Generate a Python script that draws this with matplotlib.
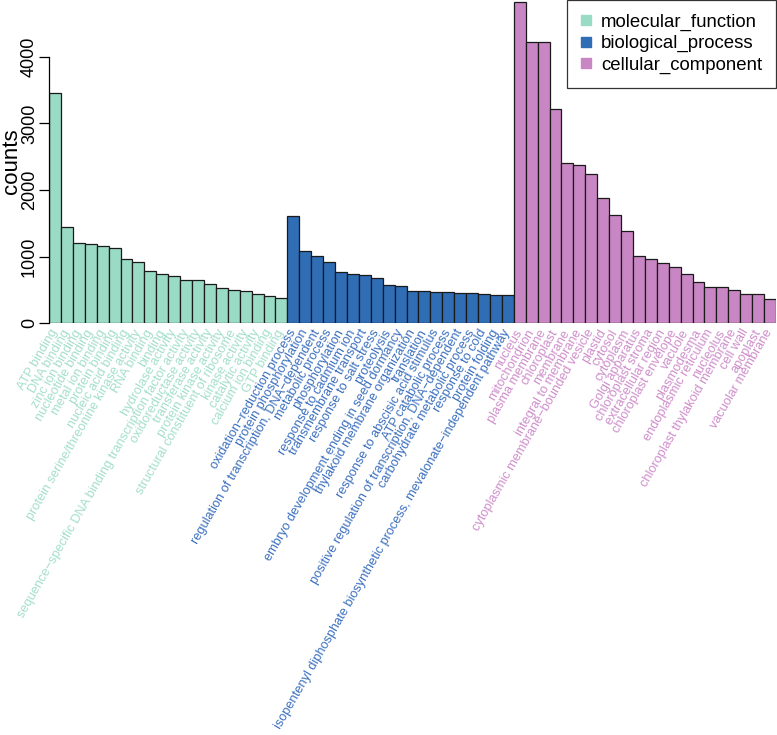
import matplotlib
matplotlib.use("Agg")
import matplotlib.pyplot as plt
from matplotlib.lines import Line2D

plt.rcParams['font.family'] = ['Liberation Sans', 'DejaVu Sans']

# GO term counts
mf_terms = ["ATP binding", "DNA binding", "zinc ion binding", "nucleotide binding",
            "metal ion binding", "protein binding", "nucleic acid binding",
            "protein serine/threonine kinase activity", "RNA binding", "binding",
            "hydrolase activity",
            "sequence\u2212specific DNA binding transcription factor activity",
            "oxidoreductase activity", "transferase activity", "protein kinase activity",
            "structural constituent of ribosome", "kinase activity", "catalytic activity",
            "calcium ion binding", "GTP binding"]
mf_counts = [3460, 1450, 1200, 1185, 1155, 1125, 965, 920, 790, 745,
             715, 655, 655, 585, 525, 495, 480, 435, 410, 375]

bp_terms = ["oxidation\u2212reduction process", "protein phosphorylation",
            "regulation of transcription, DNA\u2212dependent", "metabolic process",
            "phosphorylation", "response to cadmium ion", "transmembrane transport",
            "response to salt stress", "proteolysis",
            "embryo development ending in seed dormancy",
            "thylakoid membrane organization", "translation",
            "response to abscisic acid stimulus", "ATP catabolic process",
            "positive regulation of transcription, DNA\u2212dependent",
            "carbohydrate metabolic process", "response to cold", "protein folding",
            "isopentenyl diphosphate biosynthetic process, mevalonate\u2212independent pathway"]
bp_counts = [1610, 1085, 1010, 920, 775, 745, 730, 685, 570, 555,
             480, 480, 465, 465, 450, 450, 435, 420, 420]

cc_terms = ["nucleus", "mitochondrion", "plasma membrane", "chloroplast", "membrane",
            "integral to membrane", "cytoplasmic membrane\u2212bounded vesicle", "plastid",
            "cytosol", "cytoplasm", "Golgi apparatus", "chloroplast stroma",
            "extracellular region", "chloroplast envelope", "vacuole", "plasmodesma",
            "endoplasmic reticulum", "nucleolus", "chloroplast thylakoid membrane",
            "cell wall", "apoplast", "vacuolar membrane"]
cc_counts = [4825, 4220, 4220, 3215, 2400, 2375, 2245, 1885, 1620, 1390,
             1005, 960, 900, 850, 740, 625, 550, 550, 505, 445, 445, 370]

groups = ["molecular_function", "biological_process", "cellular_component"]
group_colors = ["#9ADBC5", "#2F6DB5", "#C986C4"]
label_colors = ["#A3DECB", "#3A6FBE", "#CE8ECB"]

fig = plt.figure(figsize=(7.77, 7.35), dpi=100)
ax = fig.add_axes([49 / 777, 1 - 323.3 / 735, 727 / 777, 323.3 / 735])

terms = mf_terms + bp_terms + cc_terms
counts = mf_counts + bp_counts + cc_counts
sizes = [len(mf_terms), len(bp_terms), len(cc_terms)]
colors = sum([[c] * n for c, n in zip(group_colors, sizes)], [])
tcolors = sum([[c] * n for c, n in zip(label_colors, sizes)], [])
pos = list(range(len(terms)))

ax.bar(pos, counts, width=1.0, color=colors, edgecolor="#1a1a1a", linewidth=0.9)

ax.set_xlim(-0.5, len(terms) - 0.5)
ax.set_ylim(0, 4850)
for s in ["top", "right", "bottom"]:
    ax.spines[s].set_visible(False)
ax.spines["left"].set_bounds(0, 4000)
ax.spines["left"].set_linewidth(0.9)

ax.set_yticks([0, 1000, 2000, 3000, 4000])
ax.tick_params(axis="y", length=7, width=0.9, pad=1, labelsize=13)
for lab in ax.get_yticklabels():
    lab.set_rotation(90)
    lab.set_va("center")

ax.set_xticks(pos)
ax.set_xticklabels(terms, rotation=60, ha="right", va="center",
                   rotation_mode="anchor", fontsize=9.2)
ax.tick_params(axis="x", length=0, pad=5)
for lab, c in zip(ax.get_xticklabels(), tcolors):
    lab.set_color(c)

fig.text(11.5 / 777, 1 - 161 / 735, "counts", rotation=90, ha="center", va="center",
         fontsize=16)

handles = [Line2D([], [], marker="s", linestyle="none", markersize=7,
                  markerfacecolor=c, markeredgecolor=c) for c in group_colors]
leg = ax.legend(handles, groups, loc="upper right", bbox_to_anchor=(1.0, 1.0),
                fontsize=13.4, frameon=True, fancybox=False, borderaxespad=0,
                handlelength=0.5, handletextpad=0.55, labelspacing=0.22,
                borderpad=0.75)
leg.get_frame().set_edgecolor("black")
leg.get_frame().set_linewidth(0.9)

fig.savefig("out.png", dpi=100)
